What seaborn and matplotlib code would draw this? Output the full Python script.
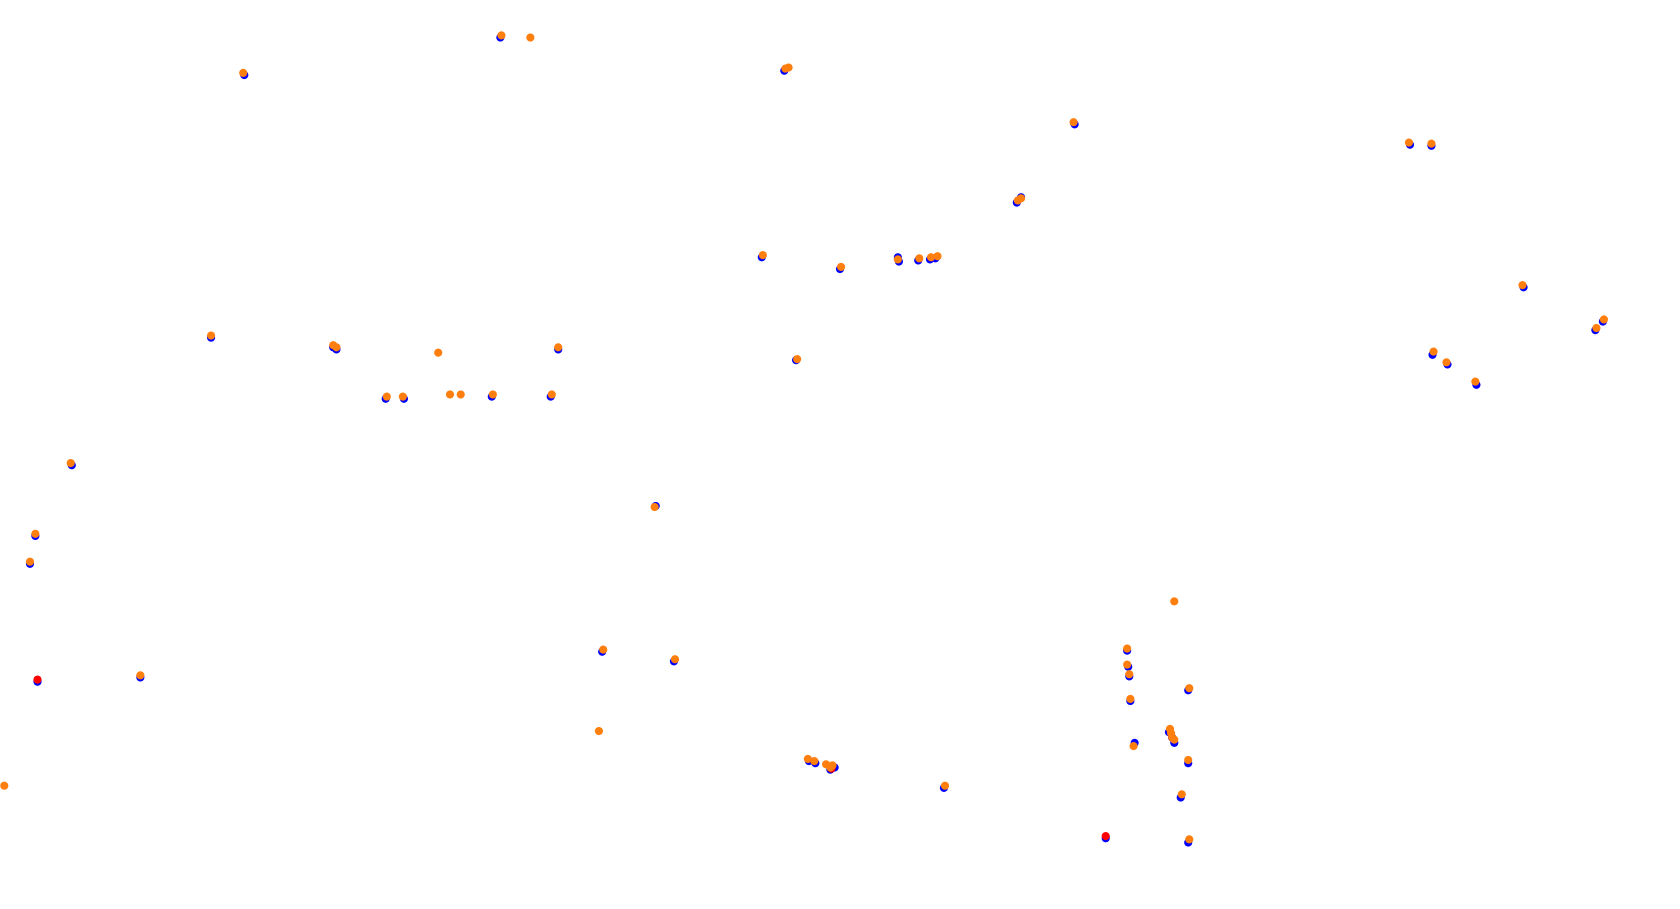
import matplotlib
matplotlib.use('Agg')
import matplotlib.pyplot as plt
import seaborn as sns
import pandas as pd

# positions (x to the right, y downwards)
blue_x = [228, 467, 732, 1003, 953, 949, 711, 784, 838, 839, 857, 868, 873,
          1316, 1336, 1422, 1496, 1489, 1337, 1351, 1378, 197, 311, 314, 521,
          360, 377, 459, 514, 743, 67, 33, 28, 35, 131, 612, 562, 629, 755,
          761, 775, 779, 881, 1032, 1052, 1053, 1054, 1109, 1055, 1091, 1094,
          1096, 1059, 1109, 1102, 1109]
blue_y = [70, 35, 66, 116, 184, 189, 240, 251, 240, 244, 243, 242, 241,
          135, 136, 268, 300, 308, 331, 340, 359, 315, 324, 326, 326,
          372, 372, 370, 370, 336, 434, 500, 526, 636, 632, 472, 608, 617, 710,
          712, 718, 716, 735, 782, 607, 622, 631, 644, 654, 683, 688,
          693, 693, 712, 744, 786]

red_x = [35, 1032, 776]
red_y = [634, 780, 717]

orange_x = [227, 468, 495, 733, 736, 1002, 950, 953, 712, 785, 838, 858, 869,
            875, 1315, 1336, 1421, 1497, 1490, 1338, 1350, 1377, 197, 311, 314,
            409, 521, 361, 376, 420, 430, 460, 515, 744, 66, 33, 28, 131, 4,
            611, 563, 630, 559, 754, 760, 771, 777, 775, 882, 1096, 1052, 1052,
            1054, 1110, 1055, 1092, 1093, 1094, 1096, 1058, 1109, 1103, 1110]
orange_y = [68, 33, 35, 64, 63, 114, 187, 185, 238, 249, 242, 241, 240,
            239, 133, 134, 266, 298, 306, 328, 338, 356, 313, 322, 324,
            329, 324, 370, 370, 368, 368, 368, 368, 335, 432, 498, 524, 630, 733,
            473, 606, 615, 682, 708, 710, 713, 714, 716, 733, 561, 605, 620,
            629, 642, 652, 680, 684, 688, 690, 696, 709, 741, 783]

df = pd.concat([
    pd.DataFrame({'x': blue_x, 'y': blue_y, 'series': 'blue'}),
    pd.DataFrame({'x': red_x, 'y': red_y, 'series': 'red'}),
    pd.DataFrame({'x': orange_x, 'y': orange_y, 'series': 'orange'}),
], ignore_index=True)

palette = {'blue': '#0000ff', 'red': '#ff0000', 'orange': '#ff7f0e'}

fig = plt.figure(figsize=(16.8, 9.09), dpi=100)
ax = fig.add_axes([0, 0, 1, 1])
sns.scatterplot(data=df, x='x', y='y', hue='series', palette=palette,
                s=34, linewidth=0, legend=False, ax=ax)
ax.set_xlim(0, 1568)
ax.set_ylim(848, 0)
ax.axis('off')

fig.savefig('out.png', dpi=100, facecolor='white')
